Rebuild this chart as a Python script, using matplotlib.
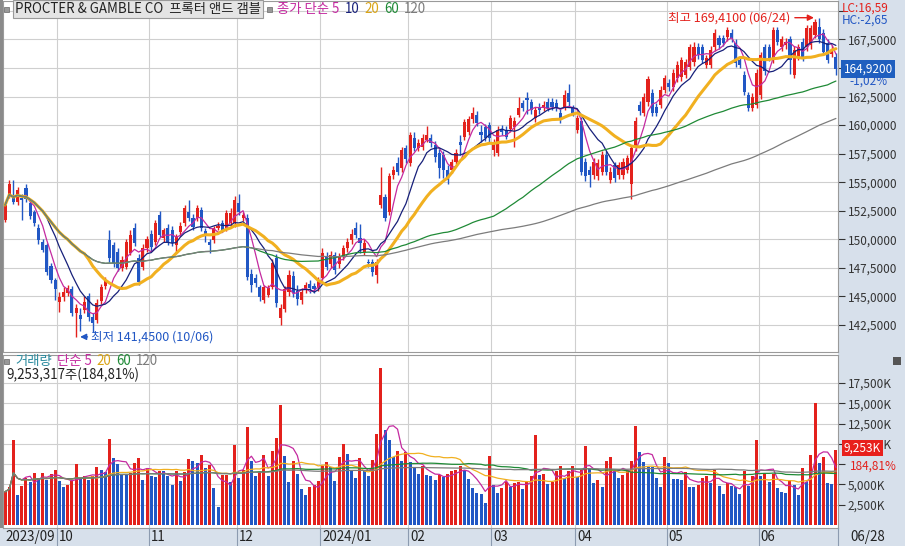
import matplotlib
matplotlib.use('Agg')
import matplotlib.pyplot as plt
import matplotlib.transforms as mtransforms
from matplotlib.patches import Rectangle
import numpy as np
import pandas as pd

plt.rcParams['font.family'] = ['Noto Sans CJK KR', 'DejaVu Sans']

W, H = 905, 546

# daily candles, 2023-09-13 .. 2024-06-28
opens = [
    151.7, 153.9, 153.9, 153.3, 153.6, 154.5, 153.2, 152.4, 151.0, 149.8,
    149.5, 147.7, 146.4, 144.5, 144.9, 145.3, 145.6, 143.5, 143.4, 143.8,
    145.0, 143.2, 142.9, 144.6, 145.9, 149.9, 149.5, 148.9, 147.5, 147.6,
    148.8, 151.0, 148.4, 147.6, 149.2, 150.5, 149.8, 152.1, 150.1, 151.0,
    150.8, 149.5, 150.6, 151.4, 152.4, 151.9, 151.9, 152.6, 150.7, 149.8,
    149.9, 151.0, 151.4, 151.0, 151.4, 151.4, 153.2, 151.9, 151.9, 147.0,
    146.6, 145.8, 144.7, 145.1, 145.8, 148.4, 143.1, 143.9, 145.4, 146.8,
    145.5, 144.7, 145.6, 146.1, 145.9, 145.8, 146.6, 148.5, 147.8, 148.6,
    147.8, 148.5, 149.2, 149.9, 151.0, 150.1, 148.9, 148.0, 148.0, 146.9,
    153.0, 153.7, 152.4, 155.6, 156.7, 156.2, 158.0, 156.7, 158.9, 158.0,
    158.1, 158.7, 158.9, 158.3, 157.6, 157.4, 156.1, 156.1, 156.8, 158.5,
    159.0, 159.4, 160.5, 160.9, 159.4, 159.8, 160.0, 157.8, 157.6, 159.7,
    159.6, 159.7, 159.8, 160.9, 161.9, 162.4, 162.0, 160.6, 161.6, 161.5,
    162.0, 162.0, 161.9, 161.1, 161.5, 162.8, 161.5, 159.6, 160.4, 156.8,
    156.1, 155.6, 155.5, 155.9, 157.4, 155.2, 156.5, 155.6, 155.6, 156.1,
    154.8, 158.0, 161.8, 161.1, 162.0, 162.8, 161.6, 161.8, 163.1, 163.7,
    163.3, 164.1, 164.2, 164.4, 165.1, 165.5, 166.8, 166.8, 165.3, 165.3,
    166.8, 167.6, 167.6, 167.7, 168.1, 167.2, 165.7, 164.4, 162.6, 161.5,
    161.8, 162.6, 166.8, 166.8, 165.7, 168.3, 166.8, 167.0, 167.5, 164.4,
    166.0, 167.3, 166.8, 167.0, 167.9, 168.6, 168.1, 167.2, 166.2, 166.0,
]
highs = [
    153.3, 155.2, 155.2, 154.6, 154.0, 154.8, 153.5, 152.6, 151.3, 150.0,
    149.7, 147.9, 146.6, 145.4, 145.8, 146.0, 145.9, 144.3, 144.0, 145.0,
    145.3, 143.5, 144.8, 146.1, 146.7, 150.8, 149.8, 149.2, 148.5, 150.0,
    150.8, 151.4, 148.7, 149.6, 150.3, 150.8, 151.7, 152.5, 151.0, 151.3,
    151.2, 150.5, 151.5, 153.0, 153.4, 152.2, 153.0, 152.8, 151.0, 150.0,
    151.2, 151.5, 151.7, 152.6, 152.7, 153.8, 154.0, 152.4, 152.2, 147.4,
    147.0, 146.0, 146.0, 146.0, 148.3, 148.7, 144.3, 145.9, 147.3, 147.2,
    146.0, 145.7, 146.3, 146.4, 146.2, 146.7, 149.2, 148.9, 149.0, 148.9,
    148.8, 149.5, 150.1, 150.9, 151.5, 151.3, 150.0, 148.3, 148.3, 148.3,
    156.3, 154.0, 155.8, 156.4, 157.2, 158.1, 158.3, 159.4, 159.4, 158.8,
    159.2, 159.9, 159.2, 158.6, 157.9, 157.7, 156.5, 157.0, 157.9, 159.1,
    160.5, 160.8, 161.6, 161.2, 160.0, 160.1, 160.3, 158.8, 159.9, 160.0,
    159.9, 160.9, 160.7, 162.5, 162.2, 162.9, 162.3, 161.6, 161.9, 162.1,
    162.4, 162.4, 162.3, 161.4, 163.1, 163.6, 161.8, 160.9, 160.7, 157.1,
    156.4, 157.1, 157.0, 157.7, 157.7, 156.3, 156.8, 156.8, 157.1, 157.4,
    158.3, 160.7, 162.1, 162.8, 164.3, 163.2, 161.9, 163.4, 164.4, 164.0,
    164.9, 165.6, 166.0, 165.8, 167.1, 167.3, 167.2, 167.1, 166.1, 166.9,
    168.4, 167.9, 167.9, 168.6, 168.4, 167.5, 166.0, 164.7, 162.9, 162.8,
    164.9, 166.4, 167.1, 167.1, 168.6, 168.6, 167.8, 167.6, 167.8, 166.9,
    167.1, 167.6, 168.8, 168.8, 169.3, 169.41, 168.4, 167.5, 167.0, 166.3,
]
lows = [
    151.5, 153.6, 153.1, 153.0, 151.7, 153.3, 151.8, 151.2, 149.6, 148.9,
    146.9, 146.2, 144.7, 143.6, 144.6, 145.0, 143.3, 141.45, 142.0, 143.5,
    142.8, 141.9, 142.7, 144.3, 145.6, 148.0, 147.6, 147.2, 147.2, 147.4,
    148.6, 149.4, 146.0, 147.3, 148.9, 149.0, 149.5, 150.2, 149.8, 149.5,
    149.4, 148.8, 150.3, 151.2, 151.6, 150.8, 151.6, 150.7, 149.8, 148.8,
    149.7, 150.8, 150.6, 150.7, 151.2, 151.1, 152.1, 151.6, 146.4, 145.4,
    145.8, 144.6, 144.4, 144.9, 145.6, 144.1, 142.5, 143.6, 145.0, 144.9,
    144.2, 144.3, 145.3, 145.3, 145.3, 145.5, 146.4, 147.3, 147.5, 147.0,
    147.5, 148.2, 148.9, 149.6, 150.1, 148.8, 148.6, 147.6, 146.8, 146.2,
    152.7, 151.6, 152.1, 155.3, 155.6, 155.9, 156.7, 156.4, 157.7, 157.7,
    157.8, 158.5, 158.1, 156.8, 155.4, 155.4, 154.8, 155.8, 156.6, 157.4,
    158.7, 159.1, 160.2, 159.9, 158.5, 158.6, 158.5, 157.3, 157.3, 159.1,
    158.8, 159.4, 158.1, 160.7, 161.2, 161.0, 161.0, 160.3, 161.0, 161.2,
    161.2, 161.3, 161.2, 160.2, 161.3, 161.7, 160.8, 159.3, 155.6, 155.1,
    154.6, 155.3, 155.2, 155.6, 155.6, 154.9, 155.0, 155.3, 155.3, 155.8,
    153.5, 157.7, 160.9, 160.8, 161.7, 160.8, 160.8, 161.5, 162.8, 163.0,
    163.0, 163.8, 163.9, 164.1, 164.8, 165.2, 165.8, 165.4, 165.0, 165.0,
    166.5, 166.7, 166.9, 167.4, 167.3, 165.1, 165.0, 162.6, 161.2, 161.2,
    161.5, 162.3, 164.4, 165.6, 165.4, 167.0, 166.5, 166.7, 164.5, 164.1,
    165.7, 165.6, 166.5, 166.7, 167.6, 167.2, 166.1, 165.4, 166.0, 164.4,
]
closes = [
    153.0, 154.8, 153.3, 154.3, 153.4, 153.5, 152.0, 151.4, 149.9, 149.1,
    147.1, 146.4, 145.6, 144.9, 145.4, 145.7, 143.5, 144.0, 143.0, 144.5,
    143.2, 142.7, 144.4, 145.8, 146.4, 148.4, 147.9, 147.5, 148.2, 149.8,
    150.4, 149.7, 146.3, 149.2, 150.0, 149.3, 151.4, 150.4, 150.8, 149.8,
    149.7, 150.2, 151.2, 152.7, 151.9, 151.1, 152.7, 151.0, 150.4, 149.5,
    151.0, 151.2, 150.8, 152.3, 152.3, 153.4, 152.4, 152.1, 146.7, 146.0,
    146.2, 144.9, 145.8, 145.7, 147.9, 144.4, 144.0, 145.6, 146.9, 145.3,
    144.8, 145.4, 146.0, 145.7, 145.6, 146.4, 148.8, 147.6, 148.6, 147.3,
    148.5, 149.2, 149.8, 150.5, 150.4, 149.7, 149.7, 147.9, 147.1, 148.0,
    153.9, 151.9, 155.5, 156.1, 155.9, 157.8, 157.0, 159.1, 158.0, 158.4,
    158.9, 159.1, 158.4, 157.2, 156.2, 156.1, 155.2, 156.8, 157.6, 158.3,
    160.3, 160.5, 161.1, 160.2, 159.1, 158.9, 158.9, 158.5, 159.6, 159.4,
    159.0, 160.6, 160.4, 161.5, 161.5, 162.2, 161.3, 161.3, 161.3, 161.8,
    161.5, 161.6, 161.5, 160.5, 162.6, 162.0, 161.1, 160.6, 155.9, 155.5,
    155.6, 156.8, 156.7, 157.4, 155.9, 155.9, 155.4, 156.5, 156.8, 157.1,
    158.0, 160.4, 161.2, 162.5, 164.0, 161.1, 161.1, 163.1, 164.1, 163.3,
    164.6, 165.3, 165.7, 165.5, 166.8, 166.8, 166.1, 165.7, 165.9, 166.6,
    168.1, 167.0, 167.2, 168.3, 167.6, 165.4, 165.3, 162.9, 161.5, 162.5,
    164.6, 166.1, 164.7, 165.9, 168.3, 167.3, 167.5, 167.3, 165.7, 166.6,
    166.8, 165.9, 168.5, 168.5, 169.0, 167.5, 166.4, 165.7, 166.62, 164.92,
]
volumes_k = [
    4100, 4720, 10470, 3700, 4800, 5780, 5260, 6400, 5780, 6400,
    5560, 6300, 6780, 5400, 4720, 4930, 5400, 7500, 5780, 6050,
    5560, 6000, 7180, 6780, 6470, 10600, 8240, 7560, 6300, 6200,
    6350, 7640, 8240, 5560, 7000, 6000, 5900, 6700, 6600, 6000,
    4930, 6700, 5480, 6470, 8160, 7850, 7640, 8650, 7000, 7430,
    4520, 2260, 6160, 6200, 5340, 9860, 5780, 6780, 12100, 7850,
    6050, 6470, 8650, 6050, 9160, 10700, 14800, 8500, 5340, 7850,
    6300, 4430, 3700, 4720, 4930, 5420, 7270, 7700, 7100, 5420,
    8370, 9980, 8780, 6780, 5830, 8240, 6600, 6050, 8040, 11200,
    19340, 11700, 10470, 8400, 9120, 7900, 9040, 7730, 7000, 6300,
    7270, 6160, 6050, 5560, 6160, 5870, 6300, 6700, 6780, 7270,
    6780, 5640, 4520, 4000, 3820, 2700, 8500, 4930, 4000, 4600,
    5340, 4720, 5200, 5260, 4430, 5340, 6000, 11100, 6160, 6300,
    5000, 5340, 6600, 7270, 5780, 6600, 7270, 5870, 6780, 9730,
    7000, 5200, 5560, 4720, 7920, 8370, 6600, 5830, 6160, 6780,
    7900, 12200, 9040, 7770, 7180, 7150, 5830, 4720, 8330, 7640,
    5700, 5650, 5560, 6520, 4720, 4700, 4930, 5830, 6050, 5200,
    6780, 4850, 3820, 5200, 4800, 4640, 3820, 6600, 4800, 6050,
    10470, 6000, 6300, 5340, 6300, 4600, 4100, 3900, 5560, 4930,
    3700, 7000, 5340, 8650, 15000, 7640, 8400, 5200, 5007, 9253.317,
]

month_starts = [0, 13, 35, 56, 76, 97, 117, 137, 159, 181]
month_labels = ['2023/09', '10', '11', '12', '2024/01', '02', '03', '04', '05', '06']
last_date = '06/28'
high_date, low_date = '06/24', '10/06'
price_ticks = [142.5, 145.0, 147.5, 150.0, 152.5, 155.0, 157.5, 160.0, 162.5, 165.0, 167.5, 170.0]
hidden_price_labels = [165.0, 170.0]
volume_ticks = [2500, 5000, 7500, 10000, 12500, 15000, 17500]
hidden_volume_labels = [7500]
price_ma = [5, 10, 20, 60, 120]
volume_ma = [5, 20, 60, 120]

UP = '#e3211c'
DOWN = '#2157c4'
MA_COL = {5: '#c42aa0', 10: '#17207a', 20: '#f1b020', 60: '#1f8a36', 120: '#7c7c7c'}
MA_LW = {5: 0.9, 10: 0.9, 20: 2.2, 60: 0.9, 120: 0.9}
GRID = '#cfcfcf'
SIDE = '#d7e0eb'


def fx(px):
    return px / W


def fy(py):
    return 1 - py / H


def seq_text(fig, x_px, y_px, parts, size, gap=5):
    r = fig.canvas.get_renderer()
    x = x_px
    for s, col in parts:
        t = fig.text(fx(x), fy(y_px), s, color=col, fontsize=size, va='center', ha='left')
        x += t.get_window_extent(renderer=r).width + gap
    return x


def dec(val, nd):
    return f"{val:.{nd}f}".replace('.', ',')


o = np.array(opens)
h = np.array(highs)
l = np.array(lows)
c = np.array(closes)
v = np.array(volumes_k, dtype=float)
n = len(c)
x = np.arange(n)

fig = plt.figure(figsize=(W / 100, H / 100), dpi=100)
fig.patch.set_facecolor('white')

# side panel, bottom strip and left border (behind the axes)
fig.patches.append(Rectangle((fx(838), 0), 1 - fx(838), 1, transform=fig.transFigure,
                             facecolor=SIDE, edgecolor='none', zorder=-2))
fig.patches.append(Rectangle((0, 0), 1, fy(528), transform=fig.transFigure,
                             facecolor=SIDE, edgecolor='none', zorder=-2))
fig.patches.append(Rectangle((0, fy(528)), fx(3), 1 - fy(528), transform=fig.transFigure,
                             facecolor='#8a8a8a', edgecolor='none', zorder=5))

xlim = (-0.5, n - 0.5)

# ---- price panel ----
ax = fig.add_axes([fx(3), fy(352), fx(838) - fx(3), fy(1) - fy(352)])
ax.set_xlim(*xlim)
ax.set_ylim(170.96 - 0.0876 * 352, 170.96 - 0.0876 * 1)
ax.set_yticks(price_ticks)
ax.yaxis.tick_right()
ax.yaxis.set_major_formatter(lambda val, pos: '' if any(abs(val - hv) < 1e-6 for hv in hidden_price_labels)
                             else dec(val, 4))
ax.tick_params(axis='y', labelsize=8.5, colors='#333333', length=5, pad=2, width=0.8)
ax.set_xticks([])
ax.grid(True, axis='y', color=GRID, lw=0.8, zorder=0)
for m in month_starts[1:]:
    ax.axvline(m - 0.5, color=GRID, lw=0.8, zorder=0)
for sp in ax.spines.values():
    sp.set_color('#9a9a9a')
    sp.set_linewidth(0.8)

cols = np.where(c >= o, UP, DOWN)
ax.vlines(x, l, h, colors=cols, lw=1.0, zorder=2)
ax.bar(x, np.maximum(np.abs(c - o), 0.08), bottom=np.minimum(o, c), width=0.74,
       color=cols, linewidth=0, zorder=2)

cs = pd.Series(c)
for p in price_ma:
    ma = cs.rolling(p, min_periods=1).mean()
    ax.plot(x, ma, color=MA_COL[p], lw=MA_LW[p], zorder=3, solid_capstyle='round')

# high / low markers
hi_i = int(np.argmax(h))
lo_i = int(np.argmin(l))
ax.annotate('', xy=(hi_i - 0.6, h[hi_i]), xytext=(hi_i - 6.5, h[hi_i]),
            arrowprops=dict(arrowstyle='-|>', color=UP, lw=1.0, mutation_scale=9), zorder=6)
ax.text(hi_i - 7.0, h[hi_i], f"최고 {dec(h[hi_i], 4)} ({high_date})",
        color=UP, fontsize=9, ha='right', va='center', zorder=6)
ax.annotate('', xy=(lo_i + 0.3, l[lo_i]), xytext=(lo_i + 3.4, l[lo_i]),
            arrowprops=dict(arrowstyle='-|>', color=DOWN, lw=1.0, mutation_scale=9), zorder=6)
ax.text(lo_i + 3.5, l[lo_i], f"최저 {dec(l[lo_i], 4)} ({low_date})",
        color=DOWN, fontsize=9, ha='left', va='center', zorder=6)

# last price tag
tr = mtransforms.blended_transform_factory(ax.transAxes, ax.transData)
chg = (c[-1] / c[-2] - 1) * 100
ax.text(1.007, c[-1], dec(c[-1], 4), transform=tr, color='white',
        fontsize=8.5, ha='left', va='center', clip_on=False, zorder=7,
        bbox=dict(boxstyle='square,pad=0.2', facecolor='#1f5fbf', edgecolor='none'))
ax.text(1.014, c[-1] - 1.1, f"{dec(chg, 2)}%", transform=tr, color=DOWN,
        fontsize=8.5, ha='left', va='center', clip_on=False, zorder=7)
fig.text(fx(842), fy(8), 'LC:16,59', color=UP, fontsize=8.5, va='center')
fig.text(fx(842), fy(20), 'HC:-2,65', color=DOWN, fontsize=8.5, va='center')

# ---- volume panel ----
av = fig.add_axes([fx(3), fy(528), fx(838) - fx(3), fy(355) - fy(528)])
av.set_xlim(*xlim)
av.set_ylim(-370, 20940)
av.set_yticks(volume_ticks)
av.yaxis.tick_right()
av.yaxis.set_major_formatter(lambda val, pos: '' if int(val) in hidden_volume_labels
                             else f"{int(val):,}K")
av.tick_params(axis='y', labelsize=8.5, colors='#333333', length=5, pad=2, width=0.8)
av.set_xticks([])
av.grid(True, axis='y', color=GRID, lw=0.8, zorder=0)
for m in month_starts[1:]:
    av.axvline(m - 0.5, color=GRID, lw=0.8, zorder=0)
for sp in av.spines.values():
    sp.set_color('#9a9a9a')
    sp.set_linewidth(0.8)

vcols = [UP] + [UP if v[i] > v[i - 1] else DOWN for i in range(1, n)]
av.bar(x, v, width=0.72, color=vcols, linewidth=0, zorder=2)
vs = pd.Series(v)
for p in volume_ma:
    ma = vs.rolling(p, min_periods=1).mean()
    av.plot(x, ma, color=MA_COL[p], lw=0.9, zorder=3)

vratio = v[-1] / v[-2] * 100
trv = mtransforms.blended_transform_factory(av.transAxes, av.transData)
av.text(1.007, v[-1] + 250, f"{int(v[-1]):,}K", transform=trv, color='white', fontsize=8.5,
        ha='left', va='center', clip_on=False, zorder=7,
        bbox=dict(boxstyle='square,pad=0.12', facecolor='#e8201c', edgecolor='none'))
av.text(1.014, v[-1] - 2050, f"{dec(vratio, 2)}%", transform=trv,
        color=UP, fontsize=8.5, ha='left', va='center', clip_on=False, zorder=7)
fig.patches.append(Rectangle((fx(893), fy(365)), fx(8), fx(8) * W / H, transform=fig.transFigure,
                             facecolor='#555555', edgecolor='none', zorder=6))

# ---- legends / titles ----
fig.patches.append(Rectangle((fx(4), fy(12)), fx(5), fx(5) * W / H, transform=fig.transFigure,
                             facecolor='#999999', edgecolor='#666666', lw=0.5, zorder=6))
t = fig.text(fx(15), fy(9), 'PROCTER & GAMBLE CO  프록터 앤드 갬블', fontsize=9.6, color='#222222',
             va='center', ha='left', zorder=6,
             bbox=dict(boxstyle='square,pad=0.12', facecolor='#e4e4e4', edgecolor='#9a9a9a', lw=0.8))
r = fig.canvas.get_renderer()
tx = 15 + t.get_window_extent(renderer=r).width + 6
fig.patches.append(Rectangle((fx(tx), fy(12)), fx(5), fx(5) * W / H, transform=fig.transFigure,
                             facecolor='#999999', edgecolor='#666666', lw=0.5, zorder=6))
seq_text(fig, tx + 10, 9, [('종가 단순 5', MA_COL[5]), ('10', MA_COL[10]), ('20', '#d9a416'),
                           ('60', MA_COL[60]), ('120', MA_COL[120])], 9.6)

fig.patches.append(Rectangle((fx(4), fy(364)), fx(5), fx(5) * W / H, transform=fig.transFigure,
                             facecolor='#999999', edgecolor='#666666', lw=0.5, zorder=6))
seq_text(fig, 15, 361, [('거래량', '#2a8a9e'), ('단순 5', MA_COL[5]), ('20', '#d9a416'),
                        ('60', MA_COL[60]), ('120', MA_COL[120])], 9.6)
fig.text(fx(6), fy(375), f"{int(round(v[-1] * 1000)):,}주({dec(vratio, 2)}%)",
         fontsize=9.6, color='#222222', va='center', ha='left')

# ---- date strip ----
for m, lab in zip(month_starts, month_labels):
    px = 3 + (m - 0.5 - xlim[0]) / (xlim[1] - xlim[0]) * 835
    if m > 0:
        fig.add_artist(plt.Line2D([fx(px), fx(px)], [fy(546), fy(528)], color='#8c9bb0', lw=0.8))
    fig.text(fx(px + 2), fy(537), lab, fontsize=9.6, color='#222222', va='center', ha='left')
fig.add_artist(plt.Line2D([fx(838), fx(838)], [fy(546), fy(528)], color='#8c9bb0', lw=0.8))
fig.text(fx(850), fy(537), last_date, fontsize=9.6, color='#222222', va='center', ha='left')

fig.savefig('out.png', dpi=100)
